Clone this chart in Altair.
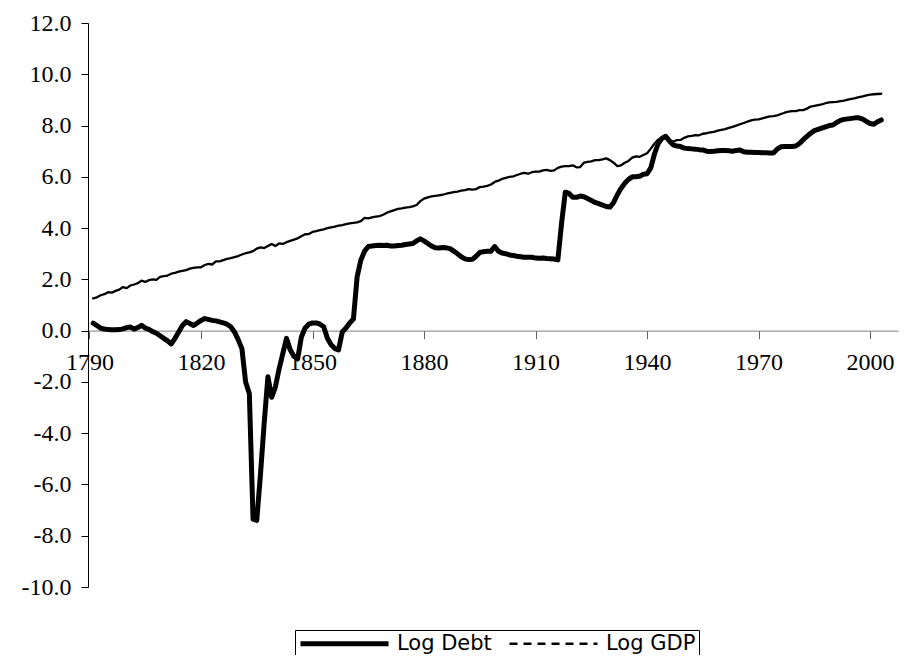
import altair as alt
import pandas as pd

years = list(range(1791, 2004))

log_debt = [
    0.29, 0.20, 0.10, 0.06, 0.04, 0.03, 0.03, 0.04, 0.07, 0.12,
    0.14, 0.06, 0.12, 0.21, 0.10, 0.05, -0.04, -0.10, -0.20, -0.30,
    -0.40, -0.52, -0.30, -0.05, 0.20, 0.35, 0.28, 0.20, 0.30, 0.40,
    0.47, 0.44, 0.40, 0.38, 0.34, 0.30, 0.25, 0.15, -0.05, -0.35,
    -0.70, -2.00, -2.45, -7.35, -7.40, -5.60, -3.60, -1.80, -2.60, -2.20,
    -1.50, -0.90, -0.30, -0.75, -1.00, -1.10, -0.25, 0.10, 0.25, 0.30,
    0.30, 0.25, 0.15, -0.30, -0.55, -0.70, -0.75, -0.05, 0.10, 0.30,
    0.45, 2.10, 2.75, 3.10, 3.28, 3.30, 3.32, 3.33, 3.32, 3.33,
    3.30, 3.30, 3.32, 3.33, 3.36, 3.38, 3.40, 3.50, 3.58, 3.50,
    3.40, 3.30, 3.23, 3.22, 3.24, 3.23, 3.20, 3.10, 3.00, 2.88,
    2.80, 2.77, 2.78, 2.90, 3.05, 3.08, 3.10, 3.10, 3.28, 3.10,
    3.03, 3.00, 2.95, 2.93, 2.90, 2.88, 2.86, 2.86, 2.86, 2.83,
    2.82, 2.83, 2.81, 2.80, 2.79, 2.76, 4.20, 5.40, 5.35, 5.20,
    5.20, 5.25, 5.22, 5.15, 5.08, 5.00, 4.95, 4.90, 4.84, 4.82,
    5.00, 5.30, 5.55, 5.75, 5.90, 6.00, 6.00, 6.02, 6.10, 6.12,
    6.35, 6.90, 7.30, 7.50, 7.58, 7.40, 7.25, 7.20, 7.18, 7.12,
    7.10, 7.09, 7.08, 7.06, 7.05, 7.00, 6.99, 7.00, 7.02, 7.03,
    7.03, 7.02, 7.00, 7.03, 7.05, 6.98, 6.96, 6.96, 6.95, 6.95,
    6.94, 6.94, 6.93, 6.93, 7.08, 7.17, 7.18, 7.18, 7.18, 7.20,
    7.30, 7.45, 7.58, 7.70, 7.80, 7.85, 7.90, 7.95, 8.00, 8.02,
    8.12, 8.20, 8.24, 8.26, 8.28, 8.30, 8.30, 8.25, 8.16, 8.08,
    8.05, 8.15, 8.22,
]

log_gdp = [
    1.26, 1.30, 1.38, 1.42, 1.50, 1.48, 1.55, 1.60, 1.70, 1.66,
    1.76, 1.80, 1.85, 1.95, 1.90, 1.97, 2.00, 1.98, 2.10, 2.13,
    2.15, 2.22, 2.25, 2.30, 2.33, 2.36, 2.42, 2.45, 2.47, 2.47,
    2.56, 2.60, 2.58, 2.70, 2.70, 2.75, 2.80, 2.83, 2.87, 2.91,
    2.97, 3.02, 3.05, 3.10, 3.20, 3.25, 3.22, 3.30, 3.38, 3.30,
    3.40, 3.38, 3.45, 3.50, 3.55, 3.60, 3.68, 3.76, 3.77, 3.85,
    3.88, 3.92, 3.95, 4.00, 4.03, 4.06, 4.10, 4.12, 4.15, 4.18,
    4.20, 4.22, 4.27, 4.40, 4.38, 4.42, 4.45, 4.47, 4.52, 4.60,
    4.65, 4.70, 4.75, 4.77, 4.80, 4.82, 4.85, 4.90, 5.05, 5.15,
    5.20, 5.24, 5.26, 5.28, 5.30, 5.34, 5.37, 5.40, 5.42, 5.46,
    5.48, 5.52, 5.50, 5.52, 5.60, 5.62, 5.65, 5.70, 5.80, 5.85,
    5.92, 5.96, 6.00, 6.02, 6.07, 6.12, 6.15, 6.12, 6.18, 6.20,
    6.20, 6.25, 6.27, 6.23, 6.25, 6.35, 6.40, 6.42, 6.42, 6.45,
    6.37, 6.38, 6.55, 6.58, 6.60, 6.65, 6.65, 6.68, 6.72, 6.65,
    6.55, 6.42, 6.45, 6.55, 6.62, 6.75, 6.80, 6.78, 6.85, 6.92,
    7.10, 7.30, 7.45, 7.55, 7.60, 7.45, 7.37, 7.43, 7.44, 7.52,
    7.58, 7.60, 7.63, 7.62, 7.68, 7.70, 7.73, 7.75, 7.80, 7.83,
    7.86, 7.91, 7.95, 8.00, 8.05, 8.10, 8.15, 8.20, 8.23, 8.24,
    8.28, 8.32, 8.36, 8.37, 8.40, 8.45, 8.50, 8.54, 8.56, 8.56,
    8.60, 8.60, 8.66, 8.74, 8.77, 8.80, 8.83, 8.87, 8.90, 8.91,
    8.92, 8.95, 8.97, 9.01, 9.04, 9.07, 9.11, 9.14, 9.18, 9.21,
    9.22, 9.23, 9.24,
]

series_names = ["Log Debt", "Log GDP"]
x_ticks = [1790, 1820, 1850, 1880, 1910, 1940, 1970, 2000]
y_ticks = [-10, -8, -6, -4, -2, 0, 2, 4, 6, 8, 10, 12]

n = len(years)
df = pd.DataFrame({
    "year": years + years,
    "value": log_debt + log_gdp,
    "series": [series_names[0]] * n + [series_names[1]] * n,
})

SERIF = "'Liberation Serif', 'Times New Roman', 'DejaVu Serif', serif"

W, H = 810, 564
y_min, y_max = -10, 12
x_axis_offset = -H * (0 - y_min) / (y_max - y_min)

x_enc = alt.X(
    "year:Q",
    scale=alt.Scale(domain=[1789.6, 2007.5], nice=False, zero=False),
    axis=alt.Axis(
        values=x_ticks, format="d", title=None, grid=False,
        offset=x_axis_offset, domainColor="#808080", tickColor="#606060",
        tickSize=8, labelPadding=12, labelFont=SERIF,
        labelFontSize=24, labelColor="black", labelFlush=False,
    ),
)
y_enc = alt.Y(
    "value:Q",
    scale=alt.Scale(domain=[y_min, y_max], nice=False, zero=False),
    axis=alt.Axis(
        values=y_ticks, title=None, grid=False,
        labelExpr="(datum.value < 0 ? '-' : '') + format(abs(datum.value), '.1f')",
        domainColor="black", tickColor="black", tickSize=7, labelPadding=10,
        labelFont=SERIF, labelFontSize=24, labelColor="black",
    ),
)

base = alt.Chart(df).encode(x=x_enc, y=y_enc, detail="series:N")

gdp_line = base.transform_filter(alt.datum.series == series_names[1]).mark_line(
    color="black", strokeWidth=2.3, strokeJoin="round", strokeCap="round"
)
debt_line = base.transform_filter(alt.datum.series == series_names[0]).mark_line(
    color="black", strokeWidth=5, strokeJoin="round", strokeCap="round"
)

leg = alt.Legend(
    title=None, orient="none", legendX=207, legendY=607, direction="horizontal",
    symbolType="M-1,0H10", symbolSize=256, labelOffset=78,
    labelFont="DejaVu Sans", labelFontSize=21, labelColor="black",
    strokeColor="black", fillColor="white", padding=3, columnPadding=12,
    symbolStrokeColor="black",
)

legend_layer = base.mark_line(color="black", opacity=0).encode(
    strokeDash=alt.StrokeDash(
        "series:N",
        scale=alt.Scale(domain=series_names, range=[[1, 0], [8, 6]]),
        legend=leg,
    ),
    strokeWidth=alt.StrokeWidth(
        "series:N",
        scale=alt.Scale(domain=series_names, range=[5, 2.5]),
        legend=leg,
    ),
)

chart = (
    alt.layer(gdp_line, debt_line, legend_layer)
    .properties(
        width=W, height=H,
        autosize=alt.AutoSizeParams(type="none"),
        padding={"left": 80, "top": 15, "right": 1, "bottom": 68},
        background="white",
    )
    .configure_view(stroke=None)
)

chart.save("out.html", embed_options={"renderer": "svg", "actions": False})
